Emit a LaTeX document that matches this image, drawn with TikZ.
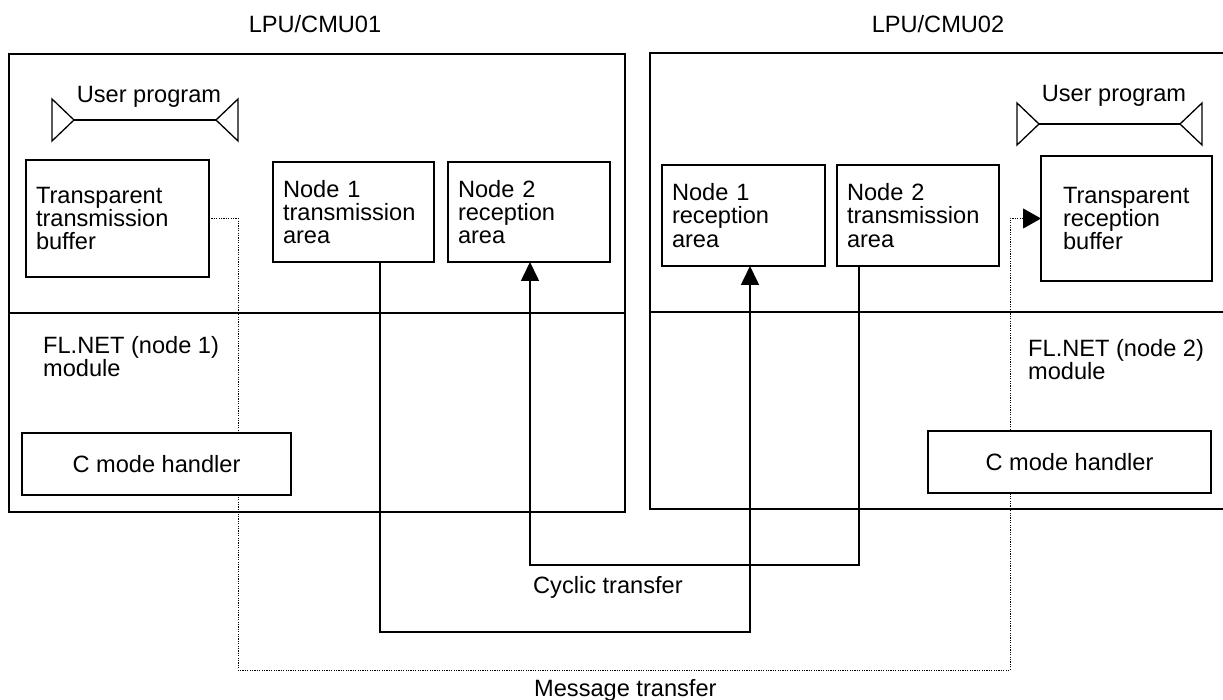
\documentclass[tikz,border=0pt]{standalone}
\usepackage{fontspec}
\setmainfont{Liberation Sans}
\usepackage{tikz}
\usetikzlibrary{positioning,arrows.meta}

\begin{document}
\begin{tikzpicture}[x=1pt, y=-1pt, font=\fontsize{23.6pt}{23.3pt}\selectfont,
  area/.style={draw, rectangle, line width=1.6pt, inner sep=10pt, outer sep=0pt, align=left},
  handler/.style={draw, rectangle, line width=1.6pt, fill=white, minimum width=#1, minimum height=62pt},
  cyc/.style={line width=1.6pt, -{Triangle[length=19pt, width=18pt]}},
  msgline/.style={line width=1pt, dash pattern=on 1.2pt off 1.2pt, -{Triangle[length=18pt, width=20pt]}}]
\useasboundingbox (0,0) rectangle (1223,700);

% the two stations
\draw[line width=1.6pt] (9,54) rectangle (625,512);
\draw[line width=1.6pt] (9,313) -- (625,313);
\node[inner sep=0pt, anchor=base] (title1) at (315,33) {LPU/CMU01};
\draw[line width=1.6pt] (650,53) rectangle (1224,509);
\draw[line width=1.6pt] (650,312) -- (1224,312);
\node[inner sep=0pt, anchor=base] (title2) at (938,33) {LPU/CMU02};

% user program symbols
\foreach \xa/\xb/\yy/\tx/\ty/\i in {52/238/120/149/103/1, 1017/1202/124/1114/102/2} {
  \draw[line width=1.3pt] (\xa,\yy-21) -- (\xa+22,\yy) -- (\xa,\yy+21) -- cycle;
  \draw[line width=1.3pt] (\xb,\yy-21) -- (\xb-22,\yy) -- (\xb,\yy+21) -- cycle;
  \draw[line width=1.3pt] (\xa+22,\yy) -- (\xb-22,\yy);
  \node[inner sep=0pt, anchor=base] (user\i) at (\tx,\ty) {User program};
}

\node[area, minimum width=183pt, minimum height=117pt, text width=163pt] (txbuf) at (117.5,218.5) {Transparent\\transmission\\buffer};
\node[area, minimum height=100pt, text width=141pt] (n1tx) at (353.5,212) {Node 1\\transmission\\area};
\node[area, minimum height=100pt, text width=142pt, right=14pt of n1tx] (n2rx) {Node 2\\reception\\area};
\node[area, minimum height=101pt, text width=143pt] (n1rx) at (743.5,215.5) {Node 1\\reception\\area};
\node[area, minimum height=101pt, text width=142pt, right=12pt of n1rx] (n2tx) {Node 2\\transmission\\area};
\node[area, minimum height=125pt, inner xsep=22pt, text width=127pt] (rxbuf) at (1126.5,218.5) {Transparent\\reception\\buffer};

\node[anchor=north west, inner sep=0pt, align=left] (fl1) at (43,336) {FL.NET (node 1)\\module};
\node[anchor=north west, inner sep=0pt, align=left] (fl2) at (1028,339) {FL.NET (node 2)\\module};

% message transfer
\coordinate (m1) at (238,670);
\coordinate (m2) at (1010,670);
\draw[msgline] (txbuf.east) -| (m1) -- (m2) |- (rxbuf.west);
\node[anchor=base west, inner sep=0pt] (msglbl) at (534,696) {Message transfer};

\node[handler=269pt] (cmh1) at (156.5,464) {C mode handler};
\node[handler=283pt] (cmh2) at (1069.5,462) {C mode handler};

% cyclic transfer
\coordinate (c1a) at (380,632);
\coordinate (c1b) at (750,632);
\coordinate (c2a) at (859,565);
\coordinate (c2b) at (530,565);
\draw[cyc] (n1tx.south -| c1a) -- (c1a) -- (c1b) -- (n1rx.south -| c1b);
\draw[cyc] (n2tx.south -| c2a) -- (c2a) -- (c2b) -- (n2rx.south -| c2b);
\node[anchor=base west, inner sep=0pt] (cyclbl) at (533,593) {Cyclic transfer};
\end{tikzpicture}
\end{document}
